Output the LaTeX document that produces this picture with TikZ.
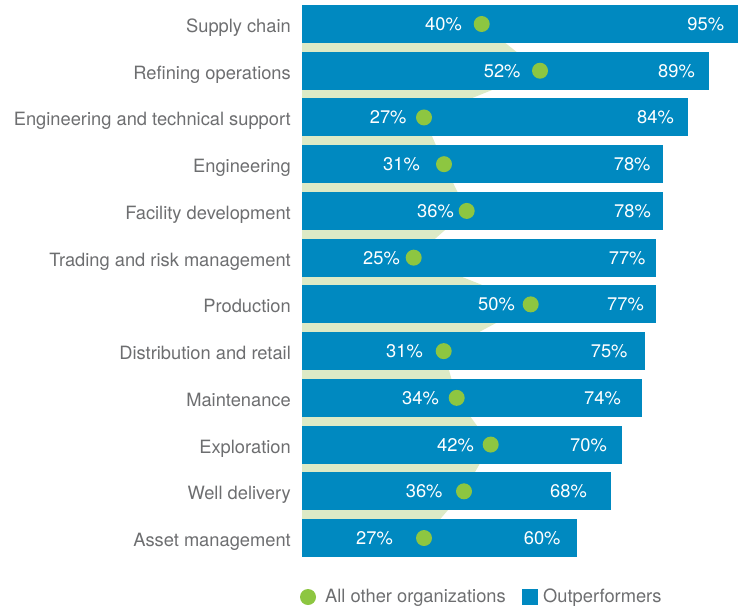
\documentclass[tikz,border=0pt]{standalone}
\usepackage{fontspec}
\setmainfont{TeX Gyre Heros}
\usetikzlibrary{backgrounds}
\definecolor{barblue}{HTML}{0089C0}
\definecolor{dotgreen}{HTML}{8DC641}
\definecolor{bggreen}{HTML}{DDEAC6}
\definecolor{txtgray}{HTML}{6D6E70}
\tikzset{
  barbox/.style={fill=barblue, draw=none, minimum height=38pt, inner sep=0pt, anchor=west},
  gdot/.style={circle, fill=dotgreen, draw=none, minimum size=16pt, inner sep=0pt},
  catlbl/.style={text=txtgray, font=\fontsize{18.3}{20}\selectfont, anchor=base east, inner sep=0pt},
  pct/.style={text=white, font=\fontsize{18.3}{20}\selectfont, anchor=base east, inner sep=0pt},
  leglbl/.style={text=txtgray, font=\fontsize{18.3}{20}\selectfont, anchor=base west, inner sep=0pt},
}
\begin{document}
\begin{tikzpicture}[x=1pt,y=-1pt]
\useasboundingbox (0,0) rectangle (738,608);
\foreach \lab/\pend/\val/\oth/\dx/\lx/\rx [count=\i from 0] in {
  Supply chain/737.7/95/40/481.7/462/724.3,
  Refining operations/709/89/52/540/520.7/695,
  Engineering and technical support/687.7/84/27/424/406.7/674,
  Engineering/662.7/78/31/444/420/650.7,
  Facility development/662.7/78/36/466.7/454/651,
  Trading and risk management/656/77/25/413.7/400/645.7,
  Production/656/77/50/530.7/515/644,
  Distribution and retail/645/75/31/443.7/423/627.7,
  Maintenance/642/74/34/456.7/439/621,
  Exploration/622/70/42/490.7/474/607,
  Well delivery/611/68/36/464/442.7/587,
  Asset management/577/60/27/424/393/560.7}{
  \pgfmathsetmacro{\yc}{24+46.73*\i}
  \pgfmathsetmacro{\yb}{\yc+8.5}
  \pgfmathsetmacro{\yp}{\yc+6.5}
  \pgfmathsetmacro{\bw}{\pend-302}
  \coordinate (d\i) at (\dx,\yc);
  \node[catlbl] (lab\i) at (291,\yb) {\lab};
  \node[barbox, minimum width=\bw pt] (bar\i) at (302,\yc) {};
  \node[gdot] (dot\i) at (\dx,\yc) {};
  \node[pct] (oth\i) at (\lx,\yp) {\oth\%};
  \node[pct] (out\i) at (\rx,\yp) {\val\%};
}
\begin{pgfonlayer}{background}
\fill[bggreen] (302,24) -- (d0) -- (d1) -- (d2) -- (d3) -- (d4) -- (d5) -- (d6)
  -- (d7) -- (d8) -- (d9) -- (d10) -- (d11) -- (302,538) -- cycle;
\end{pgfonlayer}
% legend
\node[gdot] (legdot) at (308,597) {};
\node[leglbl] (legoth) at (325,602) {All other organizations};
\node[fill=barblue, minimum size=16pt, inner sep=0pt] (legsq) at (530,596.5) {};
\node[leglbl] (legout) at (543,602) {Outperformers};
\end{tikzpicture}
\end{document}
